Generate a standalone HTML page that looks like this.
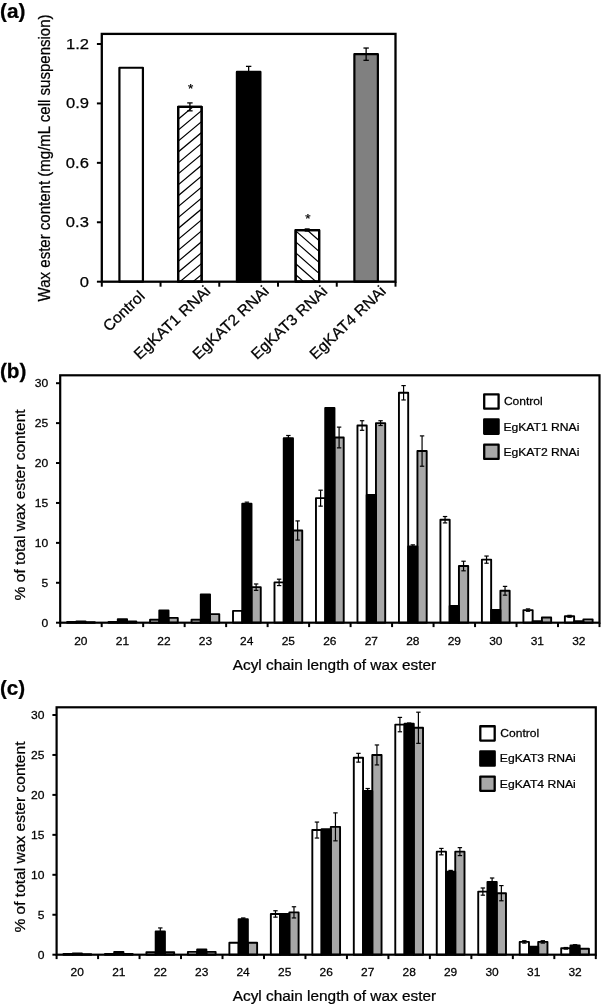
<!DOCTYPE html>
<html><head><meta charset="utf-8"><title>Figure</title>
<style>html,body{margin:0;padding:0;background:#fff;}svg{display:block;will-change:transform;filter:grayscale(1);}text{font-family:"Liberation Sans", sans-serif;fill:#000;stroke:#000;stroke-width:0.25px;}</style></head><body>
<svg width="602" height="1005" viewBox="0 0 602 1005" font-family='"Liberation Sans", sans-serif'>
<rect x="0" y="0" width="602" height="1005" fill="#fff"/>
<text transform="translate(-0.04,18.10) scale(1.0348,1)" font-size="20.10" font-weight="bold">(a)</text>
<text transform="translate(49.80,301.39) rotate(-90) scale(0.9521,1)" font-size="15.80">Wax ester content (mg/mL cell suspension)</text>
<rect x="119.42" y="67.75" width="23.50" height="213.95" fill="#fff" stroke="#000" stroke-width="2.2" stroke-linejoin="round"/>
<rect x="178.16" y="106.88" width="23.50" height="174.82" fill="#fff" stroke="#000" stroke-width="2.2" stroke-linejoin="round"/>
<clipPath id="c1"><rect x="178.16" y="106.88" width="23.50" height="174.82"/></clipPath>
<g clip-path="url(#c1)" stroke="#000" stroke-width="1.2" fill="none">
<path d="M176.16,44.38L203.66,21.42M176.16,55.31L203.66,32.35M176.16,66.24L203.66,43.28M176.16,77.17L203.66,54.21M176.16,88.10L203.66,65.14M176.16,99.03L203.66,76.07M176.16,109.96L203.66,87.00M176.16,120.89L203.66,97.93M176.16,131.82L203.66,108.86M176.16,142.75L203.66,119.79M176.16,153.68L203.66,130.72M176.16,164.61L203.66,141.65M176.16,175.54L203.66,152.58M176.16,186.47L203.66,163.51M176.16,197.40L203.66,174.44M176.16,208.33L203.66,185.37M176.16,219.26L203.66,196.30M176.16,230.19L203.66,207.23M176.16,241.12L203.66,218.16M176.16,252.05L203.66,229.09M176.16,262.98L203.66,240.02M176.16,273.91L203.66,250.95M176.16,284.84L203.66,261.88M176.16,295.77L203.66,272.81M176.16,306.70L203.66,283.74M176.16,317.63L203.66,294.67M176.16,328.56L203.66,305.60M176.16,339.49L203.66,316.53M176.16,350.42L203.66,327.46"/></g>
<rect x="178.16" y="106.88" width="23.50" height="174.82" fill="none" stroke="#000" stroke-width="2.2" stroke-linejoin="round"/>
<line x1="189.91" y1="102.91" x2="189.91" y2="110.84" stroke="#000" stroke-width="1.3" />
<line x1="187.21" y1="102.91" x2="192.61" y2="102.91" stroke="#000" stroke-width="1.3" />
<line x1="187.21" y1="110.84" x2="192.61" y2="110.84" stroke="#000" stroke-width="1.3" />
<rect x="236.90" y="71.91" width="23.50" height="209.79" fill="#000" stroke="#000" stroke-width="2.2" stroke-linejoin="round"/>
<line x1="248.65" y1="66.37" x2="248.65" y2="77.46" stroke="#000" stroke-width="1.3" />
<line x1="245.95" y1="66.37" x2="251.35" y2="66.37" stroke="#000" stroke-width="1.3" />
<line x1="245.95" y1="77.46" x2="251.35" y2="77.46" stroke="#000" stroke-width="1.3" />
<rect x="295.64" y="230.19" width="23.50" height="51.51" fill="#fff" stroke="#000" stroke-width="2.2" stroke-linejoin="round"/>
<clipPath id="c2"><rect x="295.64" y="230.19" width="23.50" height="51.51"/></clipPath>
<g clip-path="url(#c2)" stroke="#000" stroke-width="1.2" fill="none">
<path d="M293.64,163.40L321.14,187.60M293.64,174.35L321.14,198.55M293.64,185.30L321.14,209.50M293.64,196.25L321.14,220.45M293.64,207.20L321.14,231.40M293.64,218.15L321.14,242.35M293.64,229.10L321.14,253.30M293.64,240.05L321.14,264.25M293.64,251.00L321.14,275.20M293.64,261.95L321.14,286.15M293.64,272.90L321.14,297.10M293.64,283.85L321.14,308.05M293.64,294.80L321.14,319.00M293.64,305.75L321.14,329.95M293.64,316.70L321.14,340.90M293.64,327.65L321.14,351.85M293.64,338.60L321.14,362.80M293.64,349.55L321.14,373.75"/></g>
<rect x="295.64" y="230.19" width="23.50" height="51.51" fill="none" stroke="#000" stroke-width="2.2" stroke-linejoin="round"/>
<line x1="304.69" y1="229.99" x2="309.69" y2="229.99" stroke="#000" stroke-width="3.4" />
<rect x="354.38" y="54.18" width="23.50" height="227.52" fill="#808080" stroke="#000" stroke-width="2.2" stroke-linejoin="round"/>
<line x1="366.13" y1="48.04" x2="366.13" y2="60.32" stroke="#000" stroke-width="1.3" />
<line x1="363.43" y1="48.04" x2="368.83" y2="48.04" stroke="#000" stroke-width="1.3" />
<line x1="363.43" y1="60.32" x2="368.83" y2="60.32" stroke="#000" stroke-width="1.3" />
<text transform="translate(190.70,92.80)" font-size="13.50" text-anchor="middle">*</text>
<text transform="translate(307.90,222.50)" font-size="13.50" text-anchor="middle">*</text>
<rect x="101.8" y="33.9" width="293.70" height="247.80" fill="none" stroke="#000" stroke-width="2.3"/>
<line x1="96.90" y1="281.70" x2="101.80" y2="281.70" stroke="#000" stroke-width="2" />
<text transform="translate(79.71,286.60) scale(1.0900,1)" font-size="15.20">0</text>
<line x1="96.90" y1="222.27" x2="101.80" y2="222.27" stroke="#000" stroke-width="2" />
<text transform="translate(65.83,227.17) scale(1.0900,1)" font-size="15.20">0.3</text>
<line x1="96.90" y1="162.84" x2="101.80" y2="162.84" stroke="#000" stroke-width="2" />
<text transform="translate(65.83,167.74) scale(1.0900,1)" font-size="15.20">0.6</text>
<line x1="96.90" y1="103.41" x2="101.80" y2="103.41" stroke="#000" stroke-width="2" />
<text transform="translate(66.04,108.31) scale(1.0900,1)" font-size="15.20">0.9</text>
<line x1="96.90" y1="43.98" x2="101.80" y2="43.98" stroke="#000" stroke-width="2" />
<text transform="translate(66.04,48.88) scale(1.0900,1)" font-size="15.20">1.2</text>
<line x1="101.80" y1="281.70" x2="101.80" y2="286.70" stroke="#000" stroke-width="2" />
<line x1="160.54" y1="281.70" x2="160.54" y2="286.70" stroke="#000" stroke-width="2" />
<line x1="219.28" y1="281.70" x2="219.28" y2="286.70" stroke="#000" stroke-width="2" />
<line x1="278.02" y1="281.70" x2="278.02" y2="286.70" stroke="#000" stroke-width="2" />
<line x1="336.76" y1="281.70" x2="336.76" y2="286.70" stroke="#000" stroke-width="2" />
<line x1="395.50" y1="281.70" x2="395.50" y2="286.70" stroke="#000" stroke-width="2" />
<text transform="translate(145.70,297.40) rotate(-43.5) scale(1.0300,1)" font-size="15.30" text-anchor="end">Control</text>
<text transform="translate(211.30,292.30) rotate(-43.5) scale(1.0300,1)" font-size="15.30" text-anchor="end">EgKAT1 RNAi</text>
<text transform="translate(269.90,292.30) rotate(-43.5) scale(1.0300,1)" font-size="15.30" text-anchor="end">EgKAT2 RNAi</text>
<text transform="translate(328.40,292.30) rotate(-43.5) scale(1.0300,1)" font-size="15.30" text-anchor="end">EgKAT3 RNAi</text>
<text transform="translate(386.90,292.30) rotate(-43.5) scale(1.0300,1)" font-size="15.30" text-anchor="end">EgKAT4 RNAi</text>
<text transform="translate(-0.04,377.60) scale(1.0280,1)" font-size="20.20" font-weight="bold">(b)</text>
<text transform="translate(24.80,600.38) rotate(-90) scale(1.0174,1)" font-size="15.30">% of total wax ester content</text>
<text transform="translate(232.70,669.60) scale(1.0190,1)" font-size="15.10">Acyl chain length of wax ester</text>
<rect x="67.07" y="621.90" width="9.25" height="0.80" fill="#fff" stroke="#000" stroke-width="1.9" stroke-linejoin="round"/>
<rect x="85.57" y="622.30" width="9.25" height="0.40" fill="#a8a8a8" stroke="#000" stroke-width="1.9" stroke-linejoin="round"/>
<rect x="76.32" y="621.50" width="9.25" height="1.20" fill="#000" stroke="#000" stroke-width="1.9" stroke-linejoin="round"/>
<rect x="108.55" y="621.90" width="9.25" height="0.80" fill="#fff" stroke="#000" stroke-width="1.9" stroke-linejoin="round"/>
<rect x="127.05" y="621.50" width="9.25" height="1.20" fill="#a8a8a8" stroke="#000" stroke-width="1.9" stroke-linejoin="round"/>
<rect x="117.80" y="619.11" width="9.25" height="3.59" fill="#000" stroke="#000" stroke-width="1.9" stroke-linejoin="round"/>
<rect x="150.04" y="619.75" width="9.25" height="2.95" fill="#fff" stroke="#000" stroke-width="1.9" stroke-linejoin="round"/>
<rect x="168.54" y="617.91" width="9.25" height="4.79" fill="#a8a8a8" stroke="#000" stroke-width="1.9" stroke-linejoin="round"/>
<rect x="159.29" y="610.57" width="9.25" height="12.13" fill="#000" stroke="#000" stroke-width="1.9" stroke-linejoin="round"/>
<rect x="191.52" y="619.75" width="9.25" height="2.95" fill="#fff" stroke="#000" stroke-width="1.9" stroke-linejoin="round"/>
<rect x="210.02" y="614.08" width="9.25" height="8.62" fill="#a8a8a8" stroke="#000" stroke-width="1.9" stroke-linejoin="round"/>
<rect x="200.77" y="594.36" width="9.25" height="28.34" fill="#000" stroke="#000" stroke-width="1.9" stroke-linejoin="round"/>
<rect x="233.01" y="610.88" width="9.25" height="11.82" fill="#fff" stroke="#000" stroke-width="1.9" stroke-linejoin="round"/>
<rect x="251.51" y="587.17" width="9.25" height="35.53" fill="#a8a8a8" stroke="#000" stroke-width="1.9" stroke-linejoin="round"/>
<rect x="242.26" y="503.75" width="9.25" height="118.95" fill="#000" stroke="#000" stroke-width="1.9" stroke-linejoin="round"/>
<line x1="246.88" y1="502.15" x2="246.88" y2="503.75" stroke="#000" stroke-width="1.2" />
<line x1="244.68" y1="502.15" x2="249.08" y2="502.15" stroke="#000" stroke-width="1.2" />
<line x1="244.68" y1="503.75" x2="249.08" y2="503.75" stroke="#000" stroke-width="1.2" />
<line x1="256.13" y1="583.98" x2="256.13" y2="590.37" stroke="#000" stroke-width="1.2" />
<line x1="253.93" y1="583.98" x2="258.33" y2="583.98" stroke="#000" stroke-width="1.2" />
<line x1="253.93" y1="590.37" x2="258.33" y2="590.37" stroke="#000" stroke-width="1.2" />
<rect x="274.49" y="582.38" width="9.25" height="40.32" fill="#fff" stroke="#000" stroke-width="1.9" stroke-linejoin="round"/>
<rect x="292.99" y="530.49" width="9.25" height="92.21" fill="#a8a8a8" stroke="#000" stroke-width="1.9" stroke-linejoin="round"/>
<rect x="283.74" y="438.28" width="9.25" height="184.42" fill="#000" stroke="#000" stroke-width="1.9" stroke-linejoin="round"/>
<line x1="279.12" y1="579.19" x2="279.12" y2="585.58" stroke="#000" stroke-width="1.2" />
<line x1="276.92" y1="579.19" x2="281.32" y2="579.19" stroke="#000" stroke-width="1.2" />
<line x1="276.92" y1="585.58" x2="281.32" y2="585.58" stroke="#000" stroke-width="1.2" />
<line x1="288.37" y1="435.49" x2="288.37" y2="438.28" stroke="#000" stroke-width="1.2" />
<line x1="286.17" y1="435.49" x2="290.57" y2="435.49" stroke="#000" stroke-width="1.2" />
<line x1="286.17" y1="438.28" x2="290.57" y2="438.28" stroke="#000" stroke-width="1.2" />
<line x1="297.62" y1="520.91" x2="297.62" y2="540.07" stroke="#000" stroke-width="1.2" />
<line x1="295.42" y1="520.91" x2="299.82" y2="520.91" stroke="#000" stroke-width="1.2" />
<line x1="295.42" y1="540.07" x2="299.82" y2="540.07" stroke="#000" stroke-width="1.2" />
<rect x="315.97" y="498.16" width="9.25" height="124.54" fill="#fff" stroke="#000" stroke-width="1.9" stroke-linejoin="round"/>
<rect x="334.47" y="437.49" width="9.25" height="185.21" fill="#a8a8a8" stroke="#000" stroke-width="1.9" stroke-linejoin="round"/>
<rect x="325.22" y="407.95" width="9.25" height="214.75" fill="#000" stroke="#000" stroke-width="1.9" stroke-linejoin="round"/>
<line x1="320.60" y1="490.18" x2="320.60" y2="506.14" stroke="#000" stroke-width="1.2" />
<line x1="318.40" y1="490.18" x2="322.80" y2="490.18" stroke="#000" stroke-width="1.2" />
<line x1="318.40" y1="506.14" x2="322.80" y2="506.14" stroke="#000" stroke-width="1.2" />
<line x1="339.10" y1="427.11" x2="339.10" y2="447.87" stroke="#000" stroke-width="1.2" />
<line x1="336.90" y1="427.11" x2="341.30" y2="427.11" stroke="#000" stroke-width="1.2" />
<line x1="336.90" y1="447.87" x2="341.30" y2="447.87" stroke="#000" stroke-width="1.2" />
<rect x="357.46" y="425.51" width="9.25" height="197.19" fill="#fff" stroke="#000" stroke-width="1.9" stroke-linejoin="round"/>
<rect x="375.96" y="423.12" width="9.25" height="199.58" fill="#a8a8a8" stroke="#000" stroke-width="1.9" stroke-linejoin="round"/>
<rect x="366.71" y="494.97" width="9.25" height="127.73" fill="#000" stroke="#000" stroke-width="1.9" stroke-linejoin="round"/>
<line x1="362.08" y1="420.72" x2="362.08" y2="430.30" stroke="#000" stroke-width="1.2" />
<line x1="359.88" y1="420.72" x2="364.28" y2="420.72" stroke="#000" stroke-width="1.2" />
<line x1="359.88" y1="430.30" x2="364.28" y2="430.30" stroke="#000" stroke-width="1.2" />
<line x1="380.58" y1="420.72" x2="380.58" y2="425.51" stroke="#000" stroke-width="1.2" />
<line x1="378.38" y1="420.72" x2="382.78" y2="420.72" stroke="#000" stroke-width="1.2" />
<line x1="378.38" y1="425.51" x2="382.78" y2="425.51" stroke="#000" stroke-width="1.2" />
<rect x="398.94" y="392.78" width="9.25" height="229.92" fill="#fff" stroke="#000" stroke-width="1.9" stroke-linejoin="round"/>
<rect x="417.44" y="451.06" width="9.25" height="171.64" fill="#a8a8a8" stroke="#000" stroke-width="1.9" stroke-linejoin="round"/>
<rect x="408.19" y="546.46" width="9.25" height="76.24" fill="#000" stroke="#000" stroke-width="1.9" stroke-linejoin="round"/>
<line x1="403.57" y1="385.60" x2="403.57" y2="399.96" stroke="#000" stroke-width="1.2" />
<line x1="401.37" y1="385.60" x2="405.77" y2="385.60" stroke="#000" stroke-width="1.2" />
<line x1="401.37" y1="399.96" x2="405.77" y2="399.96" stroke="#000" stroke-width="1.2" />
<line x1="412.82" y1="544.86" x2="412.82" y2="546.46" stroke="#000" stroke-width="1.2" />
<line x1="410.62" y1="544.86" x2="415.02" y2="544.86" stroke="#000" stroke-width="1.2" />
<line x1="410.62" y1="546.46" x2="415.02" y2="546.46" stroke="#000" stroke-width="1.2" />
<line x1="422.07" y1="435.89" x2="422.07" y2="466.23" stroke="#000" stroke-width="1.2" />
<line x1="419.87" y1="435.89" x2="424.27" y2="435.89" stroke="#000" stroke-width="1.2" />
<line x1="419.87" y1="466.23" x2="424.27" y2="466.23" stroke="#000" stroke-width="1.2" />
<rect x="440.43" y="519.72" width="9.25" height="102.99" fill="#fff" stroke="#000" stroke-width="1.9" stroke-linejoin="round"/>
<rect x="458.93" y="566.02" width="9.25" height="56.68" fill="#a8a8a8" stroke="#000" stroke-width="1.9" stroke-linejoin="round"/>
<rect x="449.68" y="605.94" width="9.25" height="16.76" fill="#000" stroke="#000" stroke-width="1.9" stroke-linejoin="round"/>
<line x1="445.05" y1="516.52" x2="445.05" y2="522.91" stroke="#000" stroke-width="1.2" />
<line x1="442.85" y1="516.52" x2="447.25" y2="516.52" stroke="#000" stroke-width="1.2" />
<line x1="442.85" y1="522.91" x2="447.25" y2="522.91" stroke="#000" stroke-width="1.2" />
<line x1="463.55" y1="561.23" x2="463.55" y2="570.81" stroke="#000" stroke-width="1.2" />
<line x1="461.35" y1="561.23" x2="465.75" y2="561.23" stroke="#000" stroke-width="1.2" />
<line x1="461.35" y1="570.81" x2="465.75" y2="570.81" stroke="#000" stroke-width="1.2" />
<rect x="481.91" y="559.63" width="9.25" height="63.07" fill="#fff" stroke="#000" stroke-width="1.9" stroke-linejoin="round"/>
<rect x="500.41" y="590.77" width="9.25" height="31.93" fill="#a8a8a8" stroke="#000" stroke-width="1.9" stroke-linejoin="round"/>
<rect x="491.16" y="609.93" width="9.25" height="12.77" fill="#000" stroke="#000" stroke-width="1.9" stroke-linejoin="round"/>
<line x1="486.54" y1="556.04" x2="486.54" y2="563.22" stroke="#000" stroke-width="1.2" />
<line x1="484.34" y1="556.04" x2="488.74" y2="556.04" stroke="#000" stroke-width="1.2" />
<line x1="484.34" y1="563.22" x2="488.74" y2="563.22" stroke="#000" stroke-width="1.2" />
<line x1="505.04" y1="586.38" x2="505.04" y2="595.16" stroke="#000" stroke-width="1.2" />
<line x1="502.84" y1="586.38" x2="507.24" y2="586.38" stroke="#000" stroke-width="1.2" />
<line x1="502.84" y1="595.16" x2="507.24" y2="595.16" stroke="#000" stroke-width="1.2" />
<rect x="523.40" y="610.09" width="9.25" height="12.61" fill="#fff" stroke="#000" stroke-width="1.9" stroke-linejoin="round"/>
<rect x="541.90" y="617.51" width="9.25" height="5.19" fill="#a8a8a8" stroke="#000" stroke-width="1.9" stroke-linejoin="round"/>
<rect x="532.65" y="621.10" width="9.25" height="1.60" fill="#000" stroke="#000" stroke-width="1.9" stroke-linejoin="round"/>
<line x1="528.02" y1="608.89" x2="528.02" y2="611.28" stroke="#000" stroke-width="1.2" />
<line x1="525.82" y1="608.89" x2="530.22" y2="608.89" stroke="#000" stroke-width="1.2" />
<line x1="525.82" y1="611.28" x2="530.22" y2="611.28" stroke="#000" stroke-width="1.2" />
<rect x="564.88" y="616.31" width="9.25" height="6.39" fill="#fff" stroke="#000" stroke-width="1.9" stroke-linejoin="round"/>
<rect x="583.38" y="619.35" width="9.25" height="3.35" fill="#a8a8a8" stroke="#000" stroke-width="1.9" stroke-linejoin="round"/>
<rect x="574.13" y="621.26" width="9.25" height="1.44" fill="#000" stroke="#000" stroke-width="1.9" stroke-linejoin="round"/>
<line x1="569.51" y1="615.36" x2="569.51" y2="617.27" stroke="#000" stroke-width="1.2" />
<line x1="567.31" y1="615.36" x2="571.71" y2="615.36" stroke="#000" stroke-width="1.2" />
<line x1="567.31" y1="617.27" x2="571.71" y2="617.27" stroke="#000" stroke-width="1.2" />
<rect x="60.2" y="375.3" width="539.30" height="247.40" fill="none" stroke="#000" stroke-width="2.2"/>
<line x1="56.00" y1="622.70" x2="60.20" y2="622.70" stroke="#000" stroke-width="2" />
<text transform="translate(41.61,626.50) scale(1.0500,1)" font-size="11.50">0</text>
<line x1="56.00" y1="582.78" x2="60.20" y2="582.78" stroke="#000" stroke-width="2" />
<text transform="translate(41.61,586.58) scale(1.0500,1)" font-size="11.50">5</text>
<line x1="56.00" y1="542.87" x2="60.20" y2="542.87" stroke="#000" stroke-width="2" />
<text transform="translate(34.82,546.67) scale(1.0500,1)" font-size="11.50">10</text>
<line x1="56.00" y1="502.95" x2="60.20" y2="502.95" stroke="#000" stroke-width="2" />
<text transform="translate(34.82,506.75) scale(1.0500,1)" font-size="11.50">15</text>
<line x1="56.00" y1="463.03" x2="60.20" y2="463.03" stroke="#000" stroke-width="2" />
<text transform="translate(34.82,466.83) scale(1.0500,1)" font-size="11.50">20</text>
<line x1="56.00" y1="423.12" x2="60.20" y2="423.12" stroke="#000" stroke-width="2" />
<text transform="translate(34.82,426.92) scale(1.0500,1)" font-size="11.50">25</text>
<line x1="56.00" y1="383.20" x2="60.20" y2="383.20" stroke="#000" stroke-width="2" />
<text transform="translate(34.82,387.00) scale(1.0500,1)" font-size="11.50">30</text>
<line x1="60.20" y1="622.70" x2="60.20" y2="627.10" stroke="#000" stroke-width="2" />
<line x1="101.68" y1="622.70" x2="101.68" y2="627.10" stroke="#000" stroke-width="2" />
<line x1="143.17" y1="622.70" x2="143.17" y2="627.10" stroke="#000" stroke-width="2" />
<line x1="184.65" y1="622.70" x2="184.65" y2="627.10" stroke="#000" stroke-width="2" />
<line x1="226.14" y1="622.70" x2="226.14" y2="627.10" stroke="#000" stroke-width="2" />
<line x1="267.62" y1="622.70" x2="267.62" y2="627.10" stroke="#000" stroke-width="2" />
<line x1="309.11" y1="622.70" x2="309.11" y2="627.10" stroke="#000" stroke-width="2" />
<line x1="350.59" y1="622.70" x2="350.59" y2="627.10" stroke="#000" stroke-width="2" />
<line x1="392.08" y1="622.70" x2="392.08" y2="627.10" stroke="#000" stroke-width="2" />
<line x1="433.56" y1="622.70" x2="433.56" y2="627.10" stroke="#000" stroke-width="2" />
<line x1="475.05" y1="622.70" x2="475.05" y2="627.10" stroke="#000" stroke-width="2" />
<line x1="516.53" y1="622.70" x2="516.53" y2="627.10" stroke="#000" stroke-width="2" />
<line x1="558.02" y1="622.70" x2="558.02" y2="627.10" stroke="#000" stroke-width="2" />
<line x1="599.50" y1="622.70" x2="599.50" y2="627.10" stroke="#000" stroke-width="2" />
<text transform="translate(74.21,644.60) scale(1.0400,1)" font-size="11.50">20</text>
<text transform="translate(115.77,644.60) scale(1.0400,1)" font-size="11.50">21</text>
<text transform="translate(157.26,644.60) scale(1.0400,1)" font-size="11.50">22</text>
<text transform="translate(198.74,644.60) scale(1.0400,1)" font-size="11.50">23</text>
<text transform="translate(240.08,644.60) scale(1.0400,1)" font-size="11.50">24</text>
<text transform="translate(281.64,644.60) scale(1.0400,1)" font-size="11.50">25</text>
<text transform="translate(323.20,644.60) scale(1.0400,1)" font-size="11.50">26</text>
<text transform="translate(364.68,644.60) scale(1.0400,1)" font-size="11.50">27</text>
<text transform="translate(406.17,644.60) scale(1.0400,1)" font-size="11.50">28</text>
<text transform="translate(447.65,644.60) scale(1.0400,1)" font-size="11.50">29</text>
<text transform="translate(489.14,644.60) scale(1.0400,1)" font-size="11.50">30</text>
<text transform="translate(530.70,644.60) scale(1.0400,1)" font-size="11.50">31</text>
<text transform="translate(572.18,644.60) scale(1.0400,1)" font-size="11.50">32</text>
<rect x="484.20" y="394.35" width="14.40" height="14.30" fill="#fff" stroke="#000" stroke-width="2.3" stroke-linejoin="round"/>
<text transform="translate(503.90,405.40) scale(1.0583,1)" font-size="11.40">Control</text>
<rect x="484.20" y="419.50" width="14.40" height="14.30" fill="#000" stroke="#000" stroke-width="2.3" stroke-linejoin="round"/>
<text transform="translate(503.44,430.55) scale(1.0648,1)" font-size="11.40">EgKAT1 RNAi</text>
<rect x="484.20" y="444.65" width="14.40" height="14.30" fill="#a8a8a8" stroke="#000" stroke-width="2.3" stroke-linejoin="round"/>
<text transform="translate(503.44,455.70) scale(1.0648,1)" font-size="11.40">EgKAT2 RNAi</text>
<text transform="translate(-0.03,694.90) scale(1.0311,1)" font-size="20.00" font-weight="bold">(c)</text>
<text transform="translate(24.90,932.58) rotate(-90) scale(1.0174,1)" font-size="15.30">% of total wax ester content</text>
<text transform="translate(232.70,1000.80) scale(1.0190,1)" font-size="15.10">Acyl chain length of wax ester</text>
<rect x="63.46" y="953.90" width="9.25" height="0.80" fill="#fff" stroke="#000" stroke-width="1.9" stroke-linejoin="round"/>
<rect x="81.96" y="954.30" width="9.25" height="0.40" fill="#a8a8a8" stroke="#000" stroke-width="1.9" stroke-linejoin="round"/>
<rect x="72.71" y="953.50" width="9.25" height="1.20" fill="#000" stroke="#000" stroke-width="1.9" stroke-linejoin="round"/>
<rect x="104.94" y="953.90" width="9.25" height="0.80" fill="#fff" stroke="#000" stroke-width="1.9" stroke-linejoin="round"/>
<rect x="123.44" y="953.90" width="9.25" height="0.80" fill="#a8a8a8" stroke="#000" stroke-width="1.9" stroke-linejoin="round"/>
<rect x="114.19" y="951.90" width="9.25" height="2.80" fill="#000" stroke="#000" stroke-width="1.9" stroke-linejoin="round"/>
<rect x="146.42" y="952.30" width="9.25" height="2.40" fill="#fff" stroke="#000" stroke-width="1.9" stroke-linejoin="round"/>
<rect x="164.92" y="952.30" width="9.25" height="2.40" fill="#a8a8a8" stroke="#000" stroke-width="1.9" stroke-linejoin="round"/>
<rect x="155.67" y="931.53" width="9.25" height="23.17" fill="#000" stroke="#000" stroke-width="1.9" stroke-linejoin="round"/>
<line x1="160.29" y1="927.93" x2="160.29" y2="931.53" stroke="#000" stroke-width="1.2" />
<line x1="158.09" y1="927.93" x2="162.49" y2="927.93" stroke="#000" stroke-width="1.2" />
<line x1="158.09" y1="931.53" x2="162.49" y2="931.53" stroke="#000" stroke-width="1.2" />
<rect x="187.89" y="951.90" width="9.25" height="2.80" fill="#fff" stroke="#000" stroke-width="1.9" stroke-linejoin="round"/>
<rect x="206.39" y="951.90" width="9.25" height="2.80" fill="#a8a8a8" stroke="#000" stroke-width="1.9" stroke-linejoin="round"/>
<rect x="197.14" y="949.51" width="9.25" height="5.19" fill="#000" stroke="#000" stroke-width="1.9" stroke-linejoin="round"/>
<rect x="229.37" y="942.72" width="9.25" height="11.99" fill="#fff" stroke="#000" stroke-width="1.9" stroke-linejoin="round"/>
<rect x="247.87" y="942.72" width="9.25" height="11.99" fill="#a8a8a8" stroke="#000" stroke-width="1.9" stroke-linejoin="round"/>
<rect x="238.62" y="919.14" width="9.25" height="35.56" fill="#000" stroke="#000" stroke-width="1.9" stroke-linejoin="round"/>
<line x1="243.25" y1="917.95" x2="243.25" y2="919.14" stroke="#000" stroke-width="1.2" />
<line x1="241.05" y1="917.95" x2="245.45" y2="917.95" stroke="#000" stroke-width="1.2" />
<line x1="241.05" y1="919.14" x2="245.45" y2="919.14" stroke="#000" stroke-width="1.2" />
<rect x="270.85" y="913.95" width="9.25" height="40.75" fill="#fff" stroke="#000" stroke-width="1.9" stroke-linejoin="round"/>
<rect x="289.35" y="912.35" width="9.25" height="42.35" fill="#a8a8a8" stroke="#000" stroke-width="1.9" stroke-linejoin="round"/>
<rect x="280.10" y="913.95" width="9.25" height="40.75" fill="#000" stroke="#000" stroke-width="1.9" stroke-linejoin="round"/>
<line x1="275.47" y1="910.75" x2="275.47" y2="917.15" stroke="#000" stroke-width="1.2" />
<line x1="273.27" y1="910.75" x2="277.67" y2="910.75" stroke="#000" stroke-width="1.2" />
<line x1="273.27" y1="917.15" x2="277.67" y2="917.15" stroke="#000" stroke-width="1.2" />
<line x1="293.97" y1="906.76" x2="293.97" y2="917.95" stroke="#000" stroke-width="1.2" />
<line x1="291.77" y1="906.76" x2="296.17" y2="906.76" stroke="#000" stroke-width="1.2" />
<line x1="291.77" y1="917.95" x2="296.17" y2="917.95" stroke="#000" stroke-width="1.2" />
<rect x="312.32" y="830.06" width="9.25" height="124.64" fill="#fff" stroke="#000" stroke-width="1.9" stroke-linejoin="round"/>
<rect x="330.82" y="826.86" width="9.25" height="127.84" fill="#a8a8a8" stroke="#000" stroke-width="1.9" stroke-linejoin="round"/>
<rect x="321.57" y="829.26" width="9.25" height="125.44" fill="#000" stroke="#000" stroke-width="1.9" stroke-linejoin="round"/>
<line x1="316.95" y1="822.07" x2="316.95" y2="838.05" stroke="#000" stroke-width="1.2" />
<line x1="314.75" y1="822.07" x2="319.15" y2="822.07" stroke="#000" stroke-width="1.2" />
<line x1="314.75" y1="838.05" x2="319.15" y2="838.05" stroke="#000" stroke-width="1.2" />
<line x1="335.45" y1="812.88" x2="335.45" y2="840.84" stroke="#000" stroke-width="1.2" />
<line x1="333.25" y1="812.88" x2="337.65" y2="812.88" stroke="#000" stroke-width="1.2" />
<line x1="333.25" y1="840.84" x2="337.65" y2="840.84" stroke="#000" stroke-width="1.2" />
<rect x="353.80" y="757.75" width="9.25" height="196.95" fill="#fff" stroke="#000" stroke-width="1.9" stroke-linejoin="round"/>
<rect x="372.30" y="754.95" width="9.25" height="199.75" fill="#a8a8a8" stroke="#000" stroke-width="1.9" stroke-linejoin="round"/>
<rect x="363.05" y="790.90" width="9.25" height="163.80" fill="#000" stroke="#000" stroke-width="1.9" stroke-linejoin="round"/>
<line x1="358.43" y1="753.35" x2="358.43" y2="762.14" stroke="#000" stroke-width="1.2" />
<line x1="356.23" y1="753.35" x2="360.63" y2="753.35" stroke="#000" stroke-width="1.2" />
<line x1="356.23" y1="762.14" x2="360.63" y2="762.14" stroke="#000" stroke-width="1.2" />
<line x1="367.68" y1="788.51" x2="367.68" y2="790.90" stroke="#000" stroke-width="1.2" />
<line x1="365.48" y1="788.51" x2="369.88" y2="788.51" stroke="#000" stroke-width="1.2" />
<line x1="365.48" y1="790.90" x2="369.88" y2="790.90" stroke="#000" stroke-width="1.2" />
<line x1="376.93" y1="744.96" x2="376.93" y2="764.94" stroke="#000" stroke-width="1.2" />
<line x1="374.73" y1="744.96" x2="379.13" y2="744.96" stroke="#000" stroke-width="1.2" />
<line x1="374.73" y1="764.94" x2="379.13" y2="764.94" stroke="#000" stroke-width="1.2" />
<rect x="395.28" y="724.59" width="9.25" height="230.11" fill="#fff" stroke="#000" stroke-width="1.9" stroke-linejoin="round"/>
<rect x="413.78" y="727.78" width="9.25" height="226.92" fill="#a8a8a8" stroke="#000" stroke-width="1.9" stroke-linejoin="round"/>
<rect x="404.53" y="723.79" width="9.25" height="230.91" fill="#000" stroke="#000" stroke-width="1.9" stroke-linejoin="round"/>
<line x1="399.90" y1="717.40" x2="399.90" y2="731.78" stroke="#000" stroke-width="1.2" />
<line x1="397.70" y1="717.40" x2="402.10" y2="717.40" stroke="#000" stroke-width="1.2" />
<line x1="397.70" y1="731.78" x2="402.10" y2="731.78" stroke="#000" stroke-width="1.2" />
<line x1="409.15" y1="722.99" x2="409.15" y2="723.79" stroke="#000" stroke-width="1.2" />
<line x1="406.95" y1="722.99" x2="411.35" y2="722.99" stroke="#000" stroke-width="1.2" />
<line x1="406.95" y1="723.79" x2="411.35" y2="723.79" stroke="#000" stroke-width="1.2" />
<line x1="418.40" y1="712.20" x2="418.40" y2="743.36" stroke="#000" stroke-width="1.2" />
<line x1="416.20" y1="712.20" x2="420.60" y2="712.20" stroke="#000" stroke-width="1.2" />
<line x1="416.20" y1="743.36" x2="420.60" y2="743.36" stroke="#000" stroke-width="1.2" />
<rect x="436.76" y="851.63" width="9.25" height="103.07" fill="#fff" stroke="#000" stroke-width="1.9" stroke-linejoin="round"/>
<rect x="455.26" y="851.63" width="9.25" height="103.07" fill="#a8a8a8" stroke="#000" stroke-width="1.9" stroke-linejoin="round"/>
<rect x="446.01" y="871.60" width="9.25" height="83.10" fill="#000" stroke="#000" stroke-width="1.9" stroke-linejoin="round"/>
<line x1="441.38" y1="848.43" x2="441.38" y2="854.83" stroke="#000" stroke-width="1.2" />
<line x1="439.18" y1="848.43" x2="443.58" y2="848.43" stroke="#000" stroke-width="1.2" />
<line x1="439.18" y1="854.83" x2="443.58" y2="854.83" stroke="#000" stroke-width="1.2" />
<line x1="450.63" y1="870.41" x2="450.63" y2="871.60" stroke="#000" stroke-width="1.2" />
<line x1="448.43" y1="870.41" x2="452.83" y2="870.41" stroke="#000" stroke-width="1.2" />
<line x1="448.43" y1="871.60" x2="452.83" y2="871.60" stroke="#000" stroke-width="1.2" />
<line x1="459.88" y1="847.63" x2="459.88" y2="855.62" stroke="#000" stroke-width="1.2" />
<line x1="457.68" y1="847.63" x2="462.08" y2="847.63" stroke="#000" stroke-width="1.2" />
<line x1="457.68" y1="855.62" x2="462.08" y2="855.62" stroke="#000" stroke-width="1.2" />
<rect x="478.23" y="891.58" width="9.25" height="63.12" fill="#fff" stroke="#000" stroke-width="1.9" stroke-linejoin="round"/>
<rect x="496.73" y="893.18" width="9.25" height="61.52" fill="#a8a8a8" stroke="#000" stroke-width="1.9" stroke-linejoin="round"/>
<rect x="487.48" y="881.99" width="9.25" height="72.71" fill="#000" stroke="#000" stroke-width="1.9" stroke-linejoin="round"/>
<line x1="482.86" y1="887.98" x2="482.86" y2="895.17" stroke="#000" stroke-width="1.2" />
<line x1="480.66" y1="887.98" x2="485.06" y2="887.98" stroke="#000" stroke-width="1.2" />
<line x1="480.66" y1="895.17" x2="485.06" y2="895.17" stroke="#000" stroke-width="1.2" />
<line x1="492.11" y1="878.00" x2="492.11" y2="881.99" stroke="#000" stroke-width="1.2" />
<line x1="489.91" y1="878.00" x2="494.31" y2="878.00" stroke="#000" stroke-width="1.2" />
<line x1="489.91" y1="881.99" x2="494.31" y2="881.99" stroke="#000" stroke-width="1.2" />
<line x1="501.36" y1="885.59" x2="501.36" y2="900.77" stroke="#000" stroke-width="1.2" />
<line x1="499.16" y1="885.59" x2="503.56" y2="885.59" stroke="#000" stroke-width="1.2" />
<line x1="499.16" y1="900.77" x2="503.56" y2="900.77" stroke="#000" stroke-width="1.2" />
<rect x="519.71" y="941.92" width="9.25" height="12.78" fill="#fff" stroke="#000" stroke-width="1.9" stroke-linejoin="round"/>
<rect x="538.21" y="941.92" width="9.25" height="12.78" fill="#a8a8a8" stroke="#000" stroke-width="1.9" stroke-linejoin="round"/>
<rect x="528.96" y="946.71" width="9.25" height="7.99" fill="#000" stroke="#000" stroke-width="1.9" stroke-linejoin="round"/>
<line x1="524.33" y1="940.72" x2="524.33" y2="943.11" stroke="#000" stroke-width="1.2" />
<line x1="522.13" y1="940.72" x2="526.53" y2="940.72" stroke="#000" stroke-width="1.2" />
<line x1="522.13" y1="943.11" x2="526.53" y2="943.11" stroke="#000" stroke-width="1.2" />
<line x1="542.83" y1="940.72" x2="542.83" y2="943.11" stroke="#000" stroke-width="1.2" />
<line x1="540.63" y1="940.72" x2="545.03" y2="940.72" stroke="#000" stroke-width="1.2" />
<line x1="540.63" y1="943.11" x2="545.03" y2="943.11" stroke="#000" stroke-width="1.2" />
<rect x="561.19" y="948.31" width="9.25" height="6.39" fill="#fff" stroke="#000" stroke-width="1.9" stroke-linejoin="round"/>
<rect x="579.69" y="948.71" width="9.25" height="5.99" fill="#a8a8a8" stroke="#000" stroke-width="1.9" stroke-linejoin="round"/>
<rect x="570.44" y="945.51" width="9.25" height="9.19" fill="#000" stroke="#000" stroke-width="1.9" stroke-linejoin="round"/>
<line x1="565.81" y1="947.51" x2="565.81" y2="949.11" stroke="#000" stroke-width="1.2" />
<line x1="563.61" y1="947.51" x2="568.01" y2="947.51" stroke="#000" stroke-width="1.2" />
<line x1="563.61" y1="949.11" x2="568.01" y2="949.11" stroke="#000" stroke-width="1.2" />
<line x1="575.06" y1="944.71" x2="575.06" y2="945.51" stroke="#000" stroke-width="1.2" />
<line x1="572.86" y1="944.71" x2="577.26" y2="944.71" stroke="#000" stroke-width="1.2" />
<line x1="572.86" y1="945.51" x2="577.26" y2="945.51" stroke="#000" stroke-width="1.2" />
<rect x="56.6" y="707.3" width="539.20" height="247.40" fill="none" stroke="#000" stroke-width="2.2"/>
<line x1="52.40" y1="954.70" x2="56.60" y2="954.70" stroke="#000" stroke-width="2" />
<text transform="translate(37.71,958.50) scale(1.0500,1)" font-size="11.50">0</text>
<line x1="52.40" y1="914.75" x2="56.60" y2="914.75" stroke="#000" stroke-width="2" />
<text transform="translate(37.71,918.55) scale(1.0500,1)" font-size="11.50">5</text>
<line x1="52.40" y1="874.80" x2="56.60" y2="874.80" stroke="#000" stroke-width="2" />
<text transform="translate(30.92,878.60) scale(1.0500,1)" font-size="11.50">10</text>
<line x1="52.40" y1="834.85" x2="56.60" y2="834.85" stroke="#000" stroke-width="2" />
<text transform="translate(30.92,838.65) scale(1.0500,1)" font-size="11.50">15</text>
<line x1="52.40" y1="794.90" x2="56.60" y2="794.90" stroke="#000" stroke-width="2" />
<text transform="translate(30.92,798.70) scale(1.0500,1)" font-size="11.50">20</text>
<line x1="52.40" y1="754.95" x2="56.60" y2="754.95" stroke="#000" stroke-width="2" />
<text transform="translate(30.92,758.75) scale(1.0500,1)" font-size="11.50">25</text>
<line x1="52.40" y1="715.00" x2="56.60" y2="715.00" stroke="#000" stroke-width="2" />
<text transform="translate(30.92,718.80) scale(1.0500,1)" font-size="11.50">30</text>
<line x1="56.60" y1="954.70" x2="56.60" y2="959.10" stroke="#000" stroke-width="2" />
<line x1="98.08" y1="954.70" x2="98.08" y2="959.10" stroke="#000" stroke-width="2" />
<line x1="139.55" y1="954.70" x2="139.55" y2="959.10" stroke="#000" stroke-width="2" />
<line x1="181.03" y1="954.70" x2="181.03" y2="959.10" stroke="#000" stroke-width="2" />
<line x1="222.51" y1="954.70" x2="222.51" y2="959.10" stroke="#000" stroke-width="2" />
<line x1="263.98" y1="954.70" x2="263.98" y2="959.10" stroke="#000" stroke-width="2" />
<line x1="305.46" y1="954.70" x2="305.46" y2="959.10" stroke="#000" stroke-width="2" />
<line x1="346.94" y1="954.70" x2="346.94" y2="959.10" stroke="#000" stroke-width="2" />
<line x1="388.42" y1="954.70" x2="388.42" y2="959.10" stroke="#000" stroke-width="2" />
<line x1="429.89" y1="954.70" x2="429.89" y2="959.10" stroke="#000" stroke-width="2" />
<line x1="471.37" y1="954.70" x2="471.37" y2="959.10" stroke="#000" stroke-width="2" />
<line x1="512.85" y1="954.70" x2="512.85" y2="959.10" stroke="#000" stroke-width="2" />
<line x1="554.32" y1="954.70" x2="554.32" y2="959.10" stroke="#000" stroke-width="2" />
<line x1="595.80" y1="954.70" x2="595.80" y2="959.10" stroke="#000" stroke-width="2" />
<text transform="translate(70.61,976.20) scale(1.0400,1)" font-size="11.50">20</text>
<text transform="translate(112.16,976.20) scale(1.0400,1)" font-size="11.50">21</text>
<text transform="translate(153.64,976.20) scale(1.0400,1)" font-size="11.50">22</text>
<text transform="translate(195.12,976.20) scale(1.0400,1)" font-size="11.50">23</text>
<text transform="translate(236.44,976.20) scale(1.0400,1)" font-size="11.50">24</text>
<text transform="translate(278.00,976.20) scale(1.0400,1)" font-size="11.50">25</text>
<text transform="translate(319.55,976.20) scale(1.0400,1)" font-size="11.50">26</text>
<text transform="translate(361.02,976.20) scale(1.0400,1)" font-size="11.50">27</text>
<text transform="translate(402.50,976.20) scale(1.0400,1)" font-size="11.50">28</text>
<text transform="translate(443.98,976.20) scale(1.0400,1)" font-size="11.50">29</text>
<text transform="translate(485.45,976.20) scale(1.0400,1)" font-size="11.50">30</text>
<text transform="translate(527.01,976.20) scale(1.0400,1)" font-size="11.50">31</text>
<text transform="translate(568.48,976.20) scale(1.0400,1)" font-size="11.50">32</text>
<rect x="480.30" y="726.25" width="14.40" height="14.30" fill="#fff" stroke="#000" stroke-width="2.3" stroke-linejoin="round"/>
<text transform="translate(500.30,737.30) scale(1.0583,1)" font-size="11.40">Control</text>
<rect x="480.30" y="751.40" width="14.40" height="14.30" fill="#000" stroke="#000" stroke-width="2.3" stroke-linejoin="round"/>
<text transform="translate(499.84,762.45) scale(1.0648,1)" font-size="11.40">EgKAT3 RNAi</text>
<rect x="480.30" y="776.55" width="14.40" height="14.30" fill="#a8a8a8" stroke="#000" stroke-width="2.3" stroke-linejoin="round"/>
<text transform="translate(499.84,787.60) scale(1.0648,1)" font-size="11.40">EgKAT4 RNAi</text>
</svg></body></html>
